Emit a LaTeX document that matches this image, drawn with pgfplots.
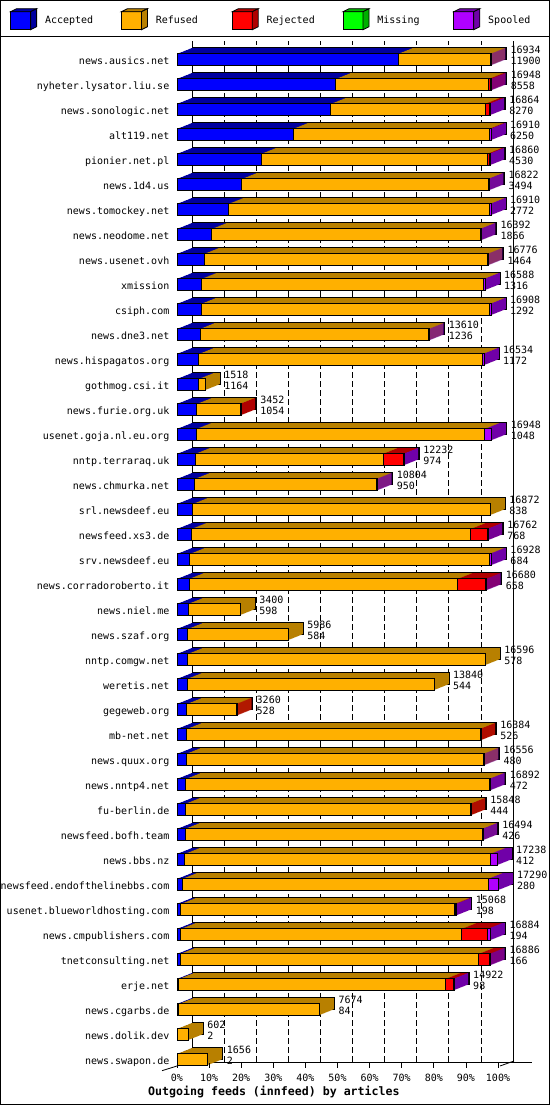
\documentclass[border=0pt]{standalone}
\usepackage{pgfplots}
\pgfplotsset{compat=1.18}
\usepackage{pgfplotstable}
\usepackage{fontspec}
\setmainfont{DejaVu Sans Mono}
\definecolor{acc}{RGB}{0,0,255}
\definecolor{accD}{RGB}{0,0,160}
\definecolor{ref}{RGB}{255,176,0}
\definecolor{refD}{RGB}{184,128,0}
\definecolor{rej}{RGB}{255,0,0}
\definecolor{rejD}{RGB}{176,0,0}
\definecolor{mis}{RGB}{0,255,0}
\definecolor{misD}{RGB}{0,176,0}
\definecolor{spo}{RGB}{176,0,255}
\definecolor{spoD}{RGB}{112,0,168}

\pgfplotstableread{
name acc ref rej spo tot
news.ausics.net 11900 4974 0 60 16934
nyheter.lysator.liu.se 8558 8230 100 60 16948
news.sonologic.net 8270 8324 210 60 16864
alt119.net 6250 10550 50 60 16910
pionier.net.pl 4530 12170 100 60 16860
news.1d4.us 3494 13268 0 60 16822
news.tomockey.net 2772 14078 0 60 16910
news.neodome.net 1866 14466 0 60 16392
news.usenet.ovh 1464 15252 0 60 16776
xmission 1316 15212 0 60 16588
csiph.com 1292 15556 0 60 16908
news.dne3.net 1236 12314 0 60 13610
news.hispagatos.org 1172 15302 0 60 16534
gothmog.csi.it 1164 354 0 0 1518
news.furie.org.uk 1054 2338 60 0 3452
usenet.goja.nl.eu.org 1048 15520 0 380 16948
nntp.terraraq.uk 974 10118 1080 60 12232
news.chmurka.net 950 9794 0 60 10804
srl.newsdeef.eu 838 16034 0 0 16872
newsfeed.xs3.de 768 15054 880 60 16762
srv.newsdeef.eu 684 16144 0 100 16928
news.corradoroberto.it 658 14462 1500 60 16680
news.niel.me 598 2802 0 0 3400
news.szaf.org 584 5402 0 0 5986
nntp.comgw.net 578 16018 0 0 16596
weretis.net 544 13296 0 0 13840
gegeweb.org 528 2672 60 0 3260
mb-net.net 526 15798 60 0 16384
news.quux.org 480 16016 0 60 16556
news.nntp4.net 472 16340 0 80 16892
fu-berlin.de 444 15344 60 0 15848
newsfeed.bofh.team 426 16008 0 60 16494
news.bbs.nz 412 16466 0 360 17238
newsfeed.endofthelinebbs.com 280 16470 0 540 17290
usenet.blueworldhosting.com 198 14750 60 60 15068
news.cmpublishers.com 194 15130 1400 160 16884
tnetconsulting.net 166 16080 580 60 16886
erje.net 98 14364 400 60 14922
news.cgarbs.de 84 7590 0 0 7674
news.dolik.dev 2 600 0 0 602
news.swapon.de 2 1654 0 0 1656
}\data

\pgfplotsset{
  geom/.style={scale only axis, width=321bp, height=1025bp, xmin=0, xmax=17290,
    ymin=-0.78, ymax=40.22, y dir=reverse, anchor=south west, clip=false,
    scaled x ticks=false, scaled y ticks=false},
  backcopy/.style={geom, hide axis, xbar stacked, bar width=0.46},
  box3d/.style 2 args={legend image code/.code={
    \draw[fill=#1, line width=0.8bp] (0bp,-9bp) rectangle (20bp,9bp);
    \draw[fill=#2, line width=0.8bp] (0bp,9bp) -- (6bp,12bp) -- (26bp,12bp) -- (20bp,9bp) -- cycle;
    \draw[fill=#2, line width=0.8bp] (20bp,-9bp) -- (26bp,-6bp) -- (26bp,12bp) -- (20bp,9bp) -- cycle;
  }},
}
\newcommand\smallfont{\fontsize{10bp}{12bp}\selectfont}
\newcommand\copybars[1]{%
  \addplot[fill=accD, draw=#1, line width=0.8bp] table[x=acc, y expr=\coordindex]{\data};
  \addplot[fill=refD, draw=#1, line width=0.8bp] table[x=ref, y expr=\coordindex]{\data};
  \addplot[fill=rejD, draw=#1, line width=0.8bp] table[x=rej, y expr=\coordindex]{\data};
  \addplot[fill=spoD, draw=#1, line width=0.8bp] table[x=spo, y expr=\coordindex]{\data};
}

\begin{document}
\begin{tikzpicture}
\useasboundingbox (0,0) rectangle (550bp,1105bp);
% back wall
\begin{axis}[scale only axis, width=340bp, height=1021bp, at={(192bp,43bp)}, anchor=south west,
  xmin=0, xmax=18313, ymin=0, ymax=1, scaled x ticks=false,
  axis x line=bottom, axis y line=left, axis line style={-, black, line width=0.8bp},
  xtick={1729,3458,5187,6916,8645,10374,12103,13832,15561}, xticklabels={},
  ytick=\empty, major tick length=0pt,
  xmajorgrids, major grid style={black, line width=0.8bp, dash pattern=on 6bp off 3bp},
  extra x ticks={17290}, extra x tick labels={},
  extra x tick style={major grid style={solid, black, line width=0.8bp}}]
\end{axis}
\draw[line width=0.8bp] (162bp,34.3bp) -- (192bp,43.7bp);
\draw[line width=0.8bp] (500bp,39bp) -- (514bp,44bp);
% depth copies (top and side faces)
\begin{axis}[backcopy, at={(192bp,46bp)}]
\copybars{black}
\end{axis}
\foreach \k in {14,13,...,1}{
  \begin{axis}[backcopy, at={({177bp+\k*1bp},{40bp+0.4*\k*1bp})}]
  \copybars{none}
  \end{axis}
}
% front faces
\begin{axis}[geom, xbar stacked, bar width=0.46, at={(177bp,40bp)},
  axis line style={draw=none},
  ytick={0,...,40}, yticklabels from table={\data}{name},
  yticklabel style={font=\smallfont, anchor=east, inner sep=0pt, xshift=-5bp, text height=9bp, text depth=0pt},
  tick pos=left, tick align=center, major tick length=5bp,
  ytick style={draw=none}, xtick style={black, line width=0.8bp},
  xtick={0,1729,3458,5187,6916,8645,10374,12103,13832,15561,17290},
  xticklabels={0\%,10\%,20\%,30\%,40\%,50\%,60\%,70\%,80\%,90\%,100\%},
  xticklabel style={font=\smallfont, inner sep=0pt, yshift=-6bp},
  xlabel={Outgoing feeds (innfeed) by articles},
  x label style={font=\fontsize{11.6bp}{13bp}\selectfont\bfseries, at={(axis description cs:0.302,-0.0263)}, anchor=center, inner sep=0pt}]
\addplot[fill=acc, draw=black, line width=0.8bp] table[x=acc, y expr=\coordindex]{\data};
\addplot[fill=ref, draw=black, line width=0.8bp] table[x=ref, y expr=\coordindex]{\data};
\addplot[fill=rej, draw=black, line width=0.8bp] table[x=rej, y expr=\coordindex]{\data};
\addplot[fill=spo, draw=black, line width=0.8bp] table[x=spo, y expr=\coordindex]{\data};
\end{axis}
% value labels and legend
\begin{axis}[geom, hide axis, at={(177bp,40bp)},
  legend columns=5,
  legend style={at={(-0.5202,1.0203)}, anchor=west, draw=none, fill=none, inner sep=0pt,
    font=\smallfont, nodes={inner sep=0pt},
    /tikz/every odd column/.append style={column sep=8bp}}]
\addlegendimage{box3d={acc}{accD}}\addlegendentry{\makebox[76bp][l]{Accepted}}
\addlegendimage{box3d={ref}{refD}}\addlegendentry{\makebox[76bp][l]{Refused}}
\addlegendimage{box3d={rej}{rejD}}\addlegendentry{\makebox[76bp][l]{Rejected}}
\addlegendimage{box3d={mis}{misD}}\addlegendentry{\makebox[76bp][l]{Missing}}
\addlegendimage{box3d={spo}{spoD}}\addlegendentry{Spooled}
\addplot[forget plot, draw=none, mark=none, nodes near coords, point meta=explicit symbolic,
  every node near coord/.append style={anchor=west, inner sep=0pt, xshift=19bp, yshift=9.5bp,
    font=\smallfont, text height=7.3bp, text depth=0pt, black}]
  table[x=tot, y expr=\coordindex, meta=tot]{\data};
\addplot[forget plot, draw=none, mark=none, nodes near coords, point meta=explicit symbolic,
  every node near coord/.append style={anchor=west, inner sep=0pt, xshift=19bp, yshift=-1.3bp,
    font=\smallfont, text height=7.3bp, text depth=0pt, black}]
  table[x=tot, y expr=\coordindex, meta=acc]{\data};
\end{axis}
\draw[line width=1bp] (0.5bp,0.5bp) rectangle (549.5bp,1104.5bp);
\draw[line width=1bp] (0bp,1068bp) -- (550bp,1068bp);
\end{tikzpicture}
\end{document}
